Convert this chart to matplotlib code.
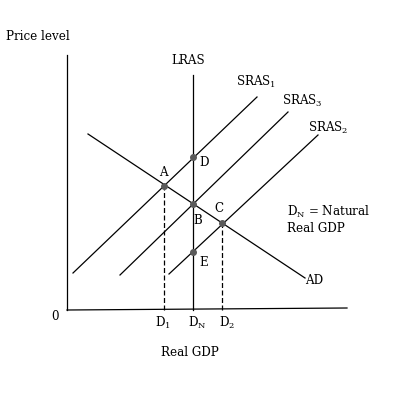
import matplotlib.pyplot as plt

plt.rcParams['font.family'] = ['DejaVu Serif']
plt.rcParams['mathtext.fontset'] = 'custom'
plt.rcParams['mathtext.rm'] = 'DejaVu Serif'

# curve end points (x = real GDP, y = price level)
lras_x = [126, 126]
lras_y = [0, 235]
ad_x = [21, 238]
ad_y = [176, 32]
sras1_x = [6, 190]
sras1_y = [37, 213]
sras3_x = [53, 221]
sras3_y = [35, 198]
sras2_x = [102, 251]
sras2_y = [36, 175]

# equilibrium points
point_names = ['A', 'B', 'C', 'D', 'E']
point_x = [97, 126, 155, 126, 126]
point_y = [124, 106, 87, 153, 58]

fig = plt.figure(figsize=(4, 4), dpi=100)
ax = fig.add_axes([0, 0, 1, 1])
ax.set_xlim(-67, 333)
ax.set_ylim(-90, 310)
ax.axis('off')

lw = 0.9
# axes
ax.plot([0, 0], [0, 255], color='black', lw=lw)
ax.plot([0, 280], [0, 2], color='black', lw=lw)

ax.plot(lras_x, lras_y, color='black', lw=lw)
ax.plot(ad_x, ad_y, color='black', lw=lw)
ax.plot(sras1_x, sras1_y, color='black', lw=lw)
ax.plot(sras3_x, sras3_y, color='black', lw=lw)
ax.plot(sras2_x, sras2_y, color='black', lw=lw)

# dashed drops from A and C
ax.plot([point_x[0], point_x[0]], [0, point_y[0]], color='black', lw=lw, ls=(0, (4, 2)))
ax.plot([point_x[2], point_x[2]], [0, point_y[2]], color='black', lw=lw, ls=(0, (4, 2)))

ax.scatter(point_x, point_y, s=16, color='#5a5a5a', zorder=3)

fs = 8.6
ax.text(-61, 273, 'Price level', fontsize=fs, va='center', ha='left')
ax.text(121, 250, 'LRAS', fontsize=fs, va='center', ha='center')
ax.text(169, 228, r'SRAS$_{\mathregular{1}}$', fontsize=fs, va='center', ha='left')
ax.text(215, 209, r'SRAS$_{\mathregular{3}}$', fontsize=fs, va='center', ha='left')
ax.text(241, 182, r'SRAS$_{\mathregular{2}}$', fontsize=fs, va='center', ha='left')

ax.text(96, 137, 'A', fontsize=fs, va='center', ha='center')
ax.text(137, 148, 'D', fontsize=fs, va='center', ha='center')
ax.text(131, 89, 'B', fontsize=fs, va='center', ha='center')
ax.text(152, 101, 'C', fontsize=fs, va='center', ha='center')
ax.text(137, 47, 'E', fontsize=fs, va='center', ha='center')
ax.text(238, 30, 'AD', fontsize=fs, va='center', ha='left')

ax.text(220, 98, r'D$_{\mathregular{N}}$ = Natural', fontsize=fs, va='center', ha='left')
ax.text(220, 82, 'Real GDP', fontsize=fs, va='center', ha='left')

ax.text(-12, -7, '0', fontsize=fs, va='center', ha='center')
ax.text(96, -13, r'D$_{\mathregular{1}}$', fontsize=fs, va='center', ha='center')
ax.text(130, -13, r'D$_{\mathregular{N}}$', fontsize=fs, va='center', ha='center')
ax.text(160, -13, r'D$_{\mathregular{2}}$', fontsize=fs, va='center', ha='center')
ax.text(123, -42, 'Real GDP', fontsize=fs, va='center', ha='center')

fig.savefig('out.png', dpi=100)
